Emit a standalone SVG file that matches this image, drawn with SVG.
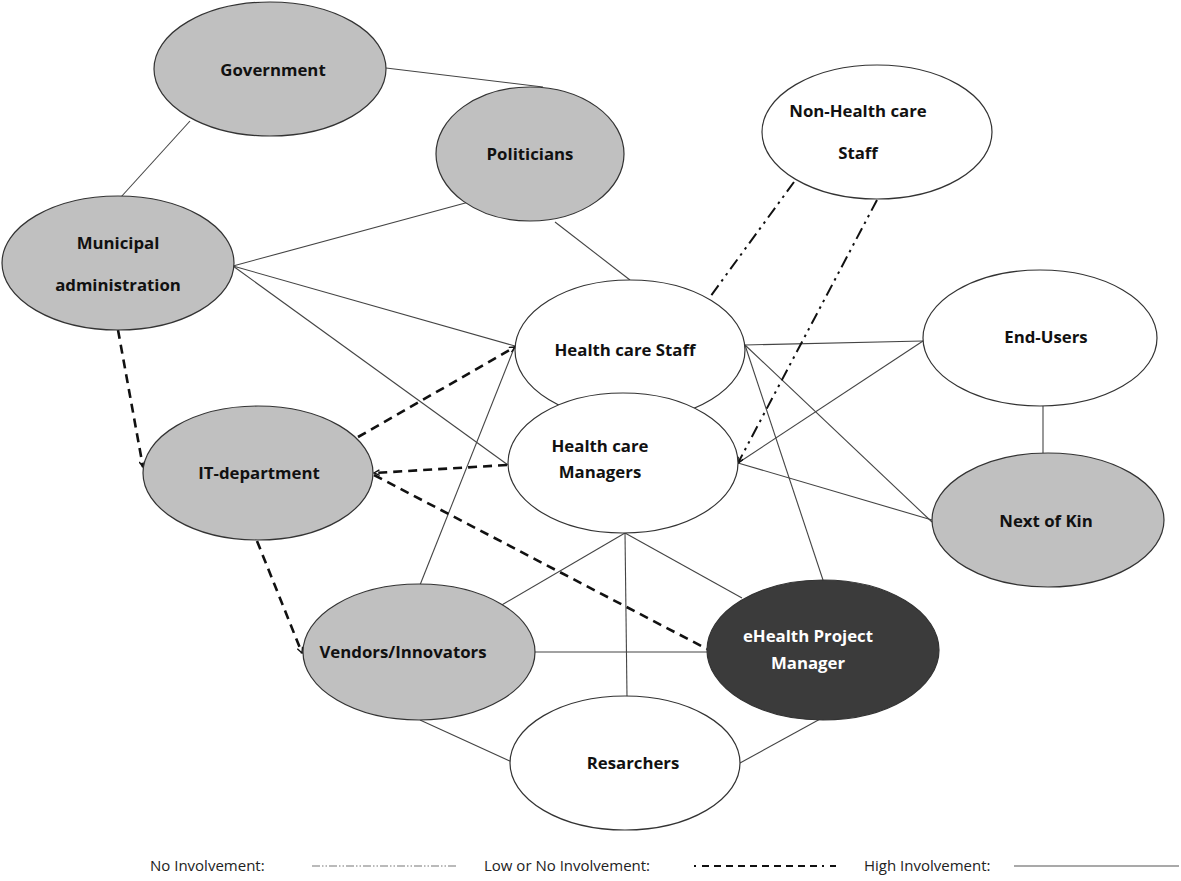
<svg xmlns="http://www.w3.org/2000/svg" width="1181" height="881" viewBox="0 0 1181 881">
<style>
.n{stroke:#333;stroke-width:1.2}
.g{fill:#c0c0c0}
.w{fill:#fff}
.d{fill:#3b3b3b}
.t{font-family:"Open Sans","Liberation Sans",sans-serif;font-weight:bold;font-size:16.8px;fill:#111;text-anchor:middle}
.tw{fill:#fff}
.hi{stroke:#444;stroke-width:1.1;fill:none}
.lo{stroke:#111;stroke-width:2.6;fill:none;stroke-dasharray:9 6}
.no{stroke:#111;stroke-width:2;fill:none;stroke-dasharray:12 5 2.5 5 2.5 5}
.lg{font-family:"Open Sans","Liberation Sans",sans-serif;font-size:15px;fill:#222}
</style>
<defs>
<marker id="ah" viewBox="0 0 10 10" refX="9" refY="5" markerWidth="7" markerHeight="7" orient="auto" markerUnits="userSpaceOnUse">
<path d="M1,1 L9,5 L1,9" fill="none" stroke="#111" stroke-width="2"/>
</marker>
</defs>
<rect width="1181" height="881" fill="#fff"/>
<g id="connectors">
<line class="hi" x1="386" y1="68" x2="543" y2="87"/>
<line class="hi" x1="190" y1="121" x2="121" y2="197"/>
<line class="hi" x1="469" y1="202" x2="233" y2="266"/>
<line class="hi" x1="555" y1="222" x2="630" y2="280"/>
<line class="hi" x1="233" y1="266" x2="515" y2="346"/>
<line class="hi" x1="233" y1="266" x2="508" y2="465"/>
<line class="hi" x1="745" y1="345" x2="923" y2="341"/>
<line class="hi" x1="923" y1="341" x2="738" y2="463"/>
<line class="hi" x1="745" y1="345" x2="932" y2="522"/>
<line class="hi" x1="745" y1="345" x2="823" y2="580"/>
<line class="hi" x1="738" y1="463" x2="932" y2="520"/>
<line class="hi" x1="1043" y1="406" x2="1043" y2="453"/>
<line class="hi" x1="515" y1="346" x2="420" y2="585"/>
<line class="hi" x1="625" y1="533" x2="500" y2="606"/>
<line class="hi" x1="625" y1="533" x2="627" y2="697"/>
<line class="hi" x1="625" y1="533" x2="742" y2="598"/>
<line class="hi" x1="535" y1="652" x2="707" y2="652"/>
<line class="hi" x1="420" y1="720" x2="512" y2="762"/>
<line class="hi" x1="740" y1="763" x2="822" y2="718"/>
<line class="lo" x1="358" y1="437" x2="515" y2="347" marker-end="url(#ah)"/>
<line class="lo" x1="507" y1="465" x2="374" y2="473" marker-end="url(#ah)"/>
<line class="lo" x1="374" y1="475" x2="707" y2="649"/>
<line class="lo" x1="118" y1="330" x2="143" y2="467" marker-end="url(#ah)"/>
<line class="lo" x1="257" y1="541" x2="302" y2="653" marker-end="url(#ah)"/>
<line class="no" x1="794" y1="182" x2="710" y2="297"/>
<line class="no" x1="877" y1="200" x2="738" y2="463" marker-end="url(#ah)"/>
</g>
<g id="government"><ellipse class="n g" cx="270" cy="69" rx="116" ry="67"/><text class="t" x="273" y="76">Government</text></g>
<g id="politicians"><ellipse class="n g" cx="530" cy="154" rx="94" ry="67"/><text class="t" x="530" y="160">Politicians</text></g>
<g id="municipal"><ellipse class="n g" cx="118" cy="263" rx="116" ry="67"/><text class="t" x="118" y="249">Municipal</text><text class="t" x="118" y="291">administration</text></g>
<g id="non-health-care-staff"><ellipse class="n w" cx="877" cy="132" rx="115" ry="67"/><text class="t" x="858" y="117">Non-Health care</text><text class="t" x="858" y="159">Staff</text></g>
<g id="health-care-staff"><ellipse class="n w" cx="630" cy="350" rx="115" ry="70"/><text class="t" x="625" y="356">Health care Staff</text></g>
<g id="health-care-managers"><ellipse class="n w" cx="623" cy="463" rx="115" ry="70"/><text class="t" x="600" y="452">Health care</text><text class="t" x="600" y="478">Managers</text></g>
<g id="end-users"><ellipse class="n w" cx="1040" cy="338" rx="117" ry="68"/><text class="t" x="1046" y="343">End-Users</text></g>
<g id="next-of-kin"><ellipse class="n g" cx="1048" cy="520" rx="116" ry="67"/><text class="t" x="1046" y="527">Next of Kin</text></g>
<g id="it-department"><ellipse class="n g" cx="258" cy="473" rx="115" ry="67"/><text class="t" x="259" y="479">IT-department</text></g>
<g id="vendors"><ellipse class="n g" cx="419" cy="652" rx="116" ry="68"/><text class="t" x="403" y="658">Vendors/Innovators</text></g>
<g id="ehealth-pm"><ellipse class="n d" cx="823" cy="650" rx="116" ry="70"/><text class="t tw" x="808" y="642">eHealth Project</text><text class="t tw" x="808" y="669">Manager</text></g>
<g id="resarchers"><ellipse class="n w" cx="625" cy="763" rx="115" ry="67"/><text class="t" x="633" y="769">Resarchers</text></g>
<g id="legend">
<text class="lg" x="150" y="871">No Involvement:</text>
<line x1="312" y1="866" x2="456" y2="866" stroke="#777" stroke-width="1.2" stroke-dasharray="8 2 1.5 2 1.5 2"/>
<text class="lg" x="484" y="871">Low or No Involvement:</text>
<line x1="694" y1="866" x2="836" y2="866" stroke="#111" stroke-width="2.2" stroke-dasharray="2 6 7 5 7 5 7 5 7 5 7 5 7 5 7 5 7 5 7 5 7 5"/>
<text class="lg" x="864" y="871">High Involvement:</text>
<line x1="1014" y1="866" x2="1179" y2="866" stroke="#555" stroke-width="1.2"/>
</g>
</svg>
